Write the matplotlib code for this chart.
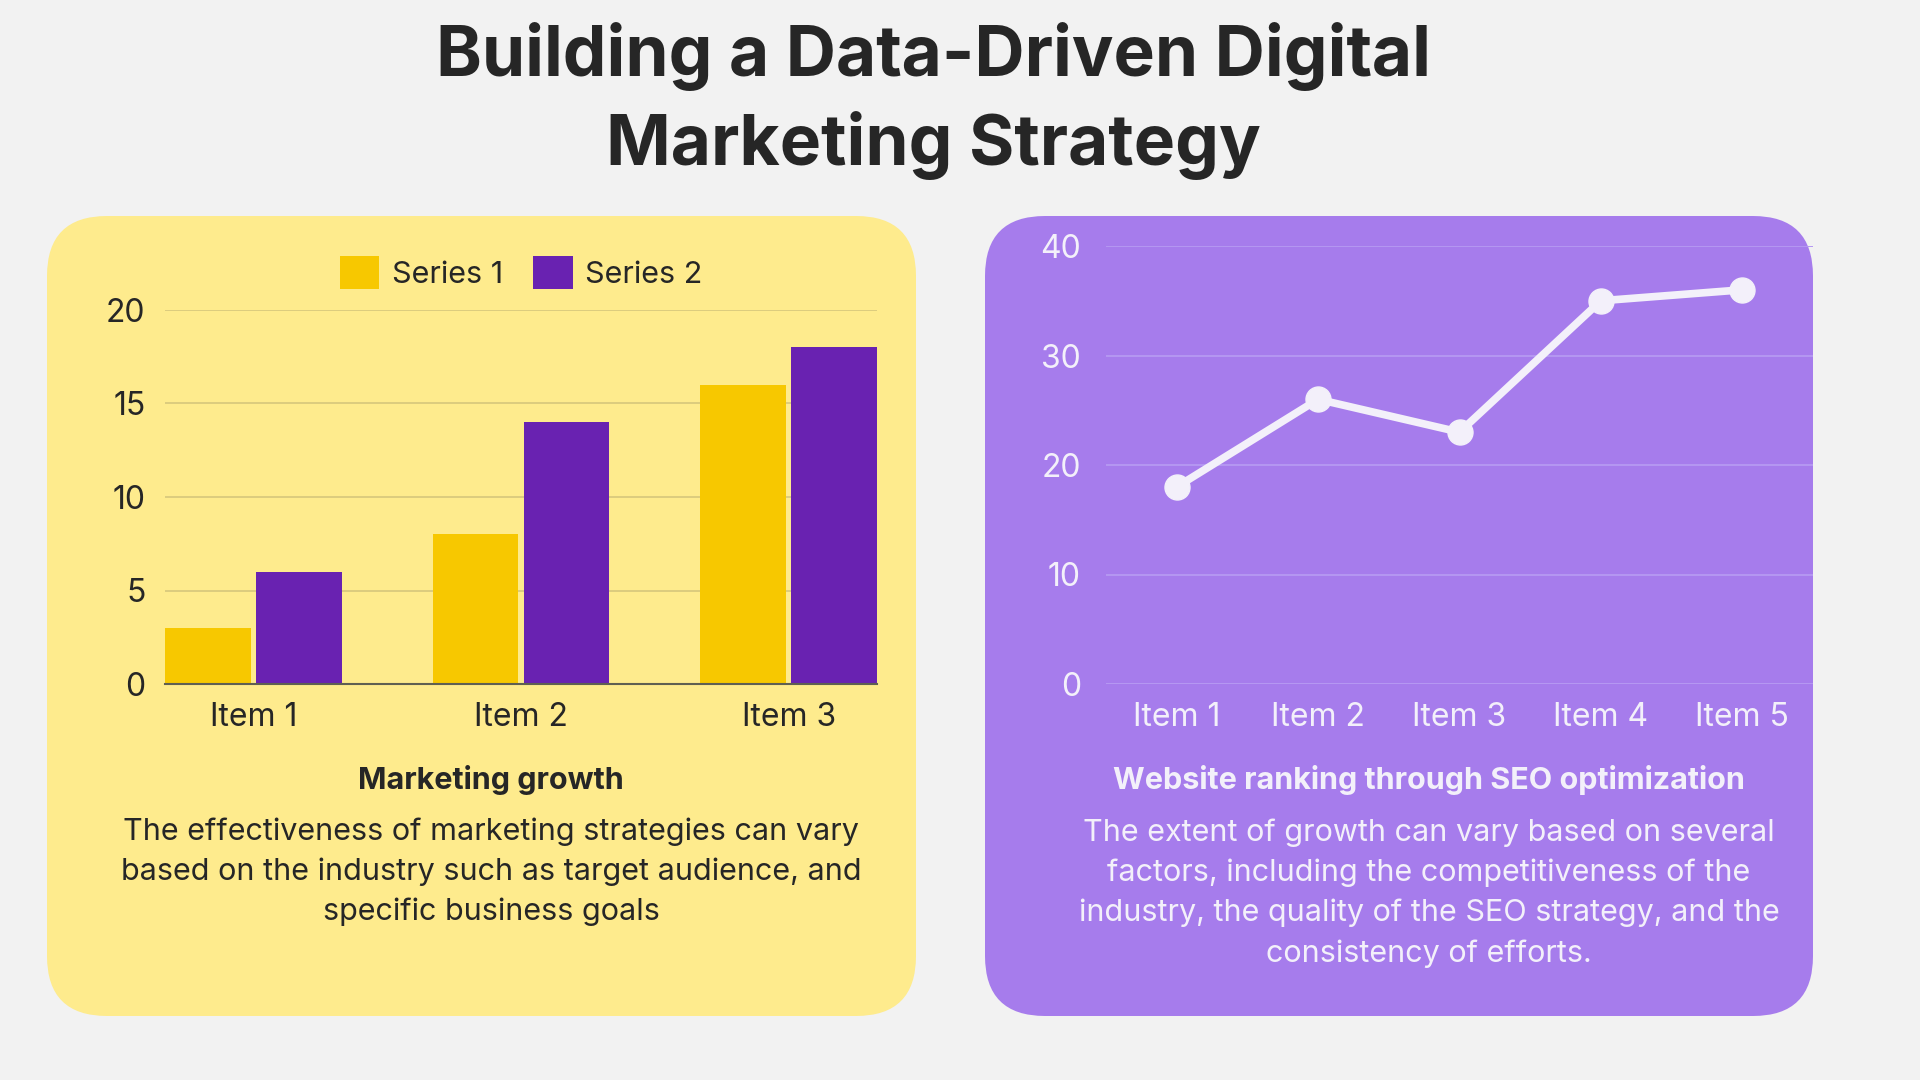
import numpy as np
import matplotlib.pyplot as plt
from matplotlib.patches import FancyBboxPatch

# data
bar_items = ['Item 1', 'Item 2', 'Item 3']
series1 = [3, 8, 16]
series2 = [6, 14, 18]
bar_yticks = [0, 5, 10, 15, 20]

line_items = ['Item 1', 'Item 2', 'Item 3', 'Item 4', 'Item 5']
ranking = [18, 26, 23, 35, 36]
line_yticks = [0, 10, 20, 30, 40]

title = 'Building a Data-Driven Digital\nMarketing Strategy'
left_head = 'Marketing growth'
left_body = ('The effectiveness of marketing strategies can vary\n'
             'based on the industry such as target audience, and\n'
             'specific business goals')
right_head = 'Website ranking through SEO optimization'
right_body = ('The extent of growth can vary based on several\n'
              'factors, including the competitiveness of the\n'
              'industry, the quality of the SEO strategy, and the\n'
              'consistency of efforts.')

BG = '#f2f2f2'
YELLOW_CARD = '#feeb8d'
PURPLE_CARD = '#a67cec'
BAR1 = '#f7c800'
BAR2 = '#6922b1'
DARK = '#262626'
LIGHT = '#f3f0fa'

plt.rcParams['font.family'] = ['Inter', 'DejaVu Sans']

W, H = 1920, 1080
fig = plt.figure(figsize=(19.2, 10.8), dpi=100, facecolor=BG)

# background axes in pixel units
bg = fig.add_axes([0, 0, 1, 1])
bg.set_xlim(0, W)
bg.set_ylim(H, 0)
bg.axis('off')
bg.set_facecolor(BG)

def card(x0, y0, x1, y1, color):
    p = FancyBboxPatch((x0, y0), x1 - x0, y1 - y0,
                       boxstyle='round,pad=0,rounding_size=60',
                       fc=color, ec='none')
    bg.add_patch(p)

card(47, 216, 916, 1016, YELLOW_CARD)
card(985, 216, 1813, 1016, PURPLE_CARD)

bg.text(933, 101, title, ha='center', va='center', fontsize=50,
        fontweight='bold', color=DARK, linespacing=1.37)

bg.text(491, 780, left_head, ha='center', va='center', fontsize=22,
        fontweight='bold', color=DARK)
bg.text(491, 872, left_body, ha='center', va='center', fontsize=22,
        color=DARK, linespacing=1.52)
bg.text(1429, 780, right_head, ha='center', va='center', fontsize=22,
        fontweight='bold', color=LIGHT)
bg.text(1429, 893, right_body, ha='center', va='center', fontsize=22,
        color=LIGHT, linespacing=1.52)

def frac(x0, y0, x1, y1):
    return [x0 / W, 1 - y1 / H, (x1 - x0) / W, (y1 - y0) / H]

# bar chart
ax = fig.add_axes(frac(165, 310, 877, 684))
ax.set_facecolor('none')
x = np.arange(len(bar_items))
bw = 0.32
ax.bar(x - bw / 2 - 0.01, series1, bw, color=BAR1, label='Series 1', zorder=3)
ax.bar(x + bw / 2 + 0.01, series2, bw, color=BAR2, label='Series 2', zorder=3)
ax.set_xlim(-0.33, 2.33)
ax.set_ylim(0, 20)
ax.set_yticks(bar_yticks)
ax.set_xticks(x)
ax.set_xticklabels(bar_items)
ax.tick_params(length=0, labelsize=23, colors=DARK, pad=13)
ax.tick_params(axis='y', pad=14)
ax.grid(axis='y', color='#d6c67c', lw=1.2, zorder=0)
for s in ('top', 'right', 'left'):
    ax.spines[s].set_visible(False)
ax.spines['bottom'].set_color('#5f5f52')
ax.spines['bottom'].set_linewidth(1.5)
ax.spines['bottom'].set_zorder(4)
ax.legend(loc='center', bbox_to_anchor=(0.5, 1.10), ncol=2, frameon=False,
          fontsize=22, handlelength=1.3, handleheight=1.3, columnspacing=1.0,
          handletextpad=0.4, labelcolor=DARK)

# line chart
ax2 = fig.add_axes(frac(1106, 246, 1813, 684))
ax2.set_facecolor('none')
xl = np.arange(len(line_items))
ax2.plot(xl, ranking, color=LIGHT, lw=5.5, marker='o', ms=18, zorder=3,
         solid_capstyle='round')
ax2.set_xlim(-0.5, 4.5)
ax2.set_ylim(0, 40)
ax2.set_yticks(line_yticks)
ax2.set_xticks(xl)
ax2.set_xticklabels(line_items)
ax2.tick_params(length=0, labelsize=23, colors=LIGHT, pad=13)
ax2.tick_params(axis='y', pad=18)
ax2.grid(axis='y', color='#b597f2', lw=1.4, zorder=0)
for s in ('top', 'right', 'left', 'bottom'):
    ax2.spines[s].set_visible(False)
ax2.axhline(0, color='#c2a8f5', lw=1.4, zorder=1)

fig.savefig('out.png', dpi=100, facecolor=BG)
